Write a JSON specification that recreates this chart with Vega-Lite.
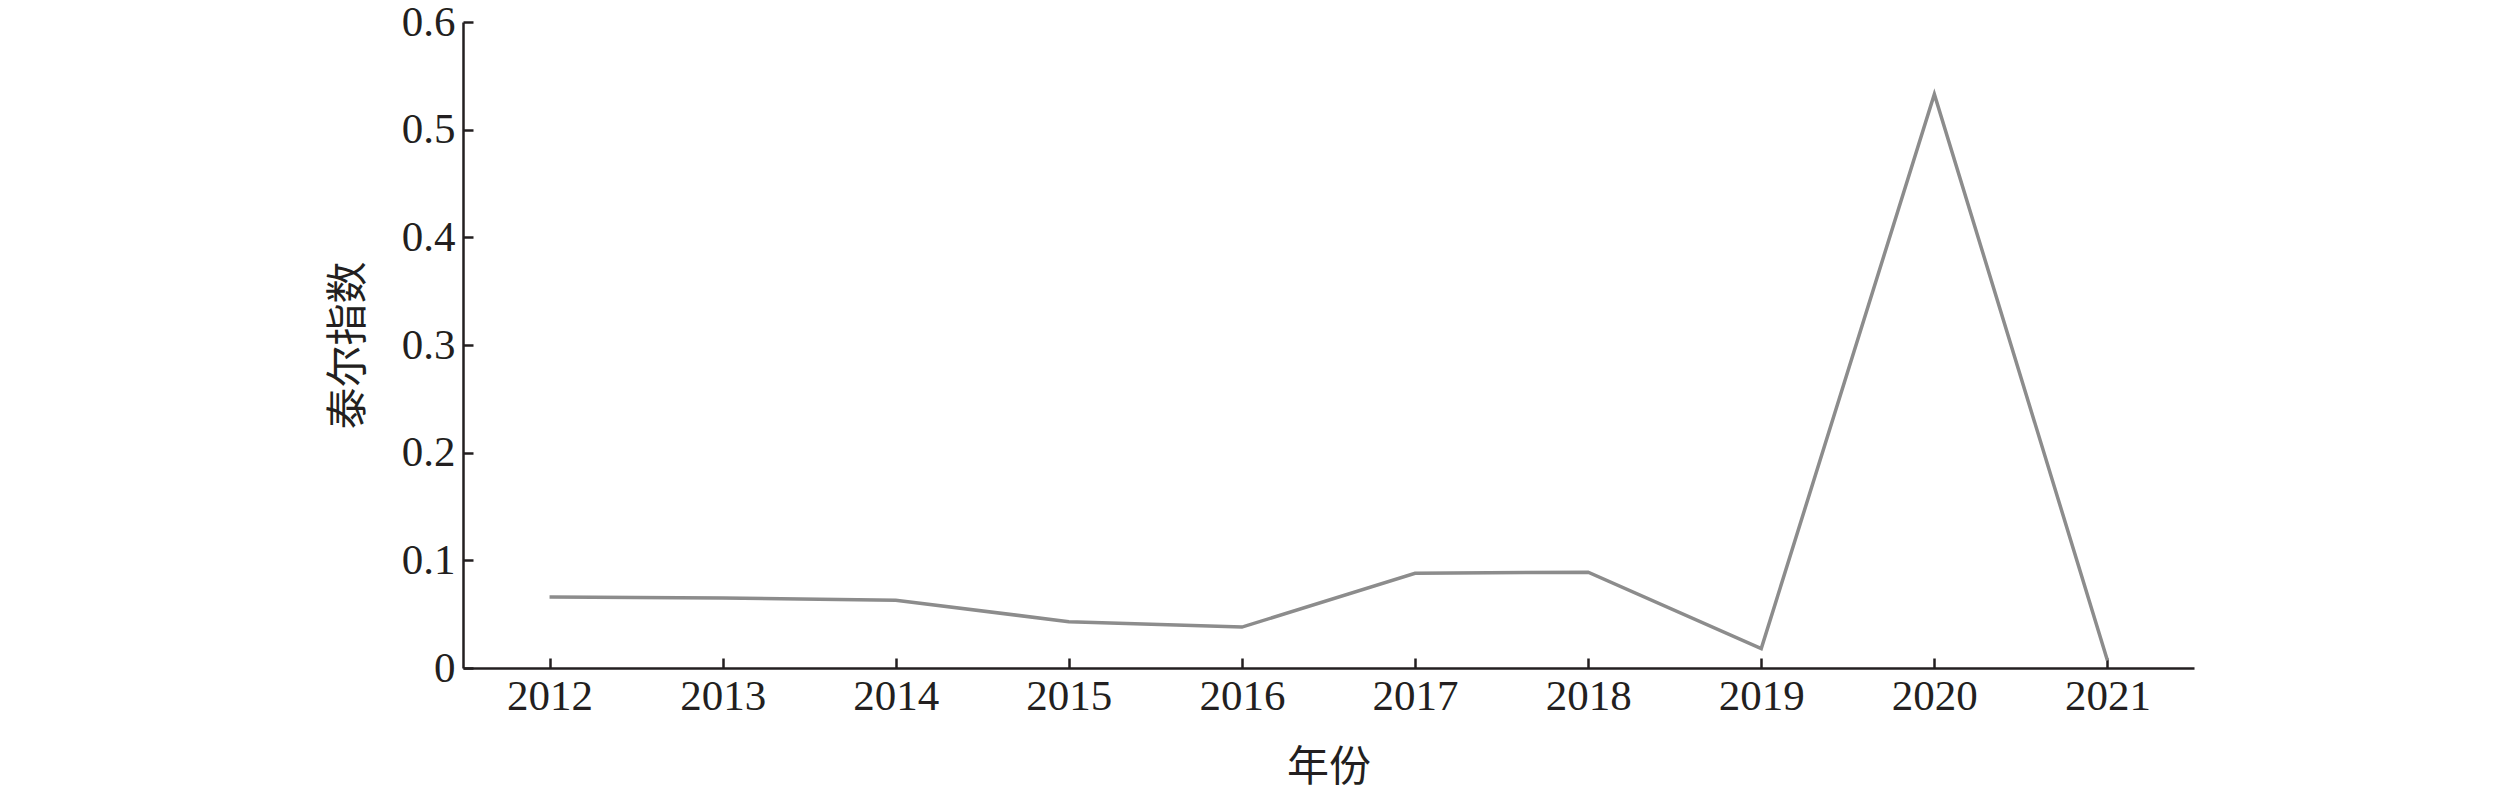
{
  "$schema": "https://vega.github.io/schema/vega-lite/v6.json",
  "autosize": {"type": "none"},
  "padding": {"left": 463, "top": 22, "right": 325, "bottom": 128},
  "width": 1731,
  "height": 646,
  "background": "white",
  "config": {"view": {"stroke": null}},
  "data": {"values": [
    {"year": "2012", "theil": 0.066},
    {"year": "2013", "theil": 0.065},
    {"year": "2014", "theil": 0.063},
    {"year": "2015", "theil": 0.043},
    {"year": "2016", "theil": 0.038},
    {"year": "2017", "theil": 0.088},
    {"year": "2018", "theil": 0.089},
    {"year": "2019", "theil": 0.018},
    {"year": "2020", "theil": 0.533},
    {"year": "2021", "theil": 0.007}
  ]},
  "mark": {"type": "line", "color": "#8c8c8c", "strokeWidth": 3.5},
  "encoding": {
    "x": {
      "field": "year", "type": "ordinal",
      "scale": {"type": "point", "padding": 0.5},
      "axis": {
        "title": "年份", "labelAngle": 0, "grid": false,
        "domainColor": "#231f20", "domainWidth": 2.5,
        "tickColor": "#231f20", "tickWidth": 2.5, "tickSize": -10,
        "labelFont": "Liberation Serif", "labelFontSize": 43, "labelColor": "#231f20",
        "labelPadding": 17,
        "titleFont": "Noto Sans CJK SC", "titleFontSize": 42, "titleFontWeight": "normal",
        "titleColor": "#231f20", "titleY": 99, "titleBaseline": "middle"
      }
    },
    "y": {
      "field": "theil", "type": "quantitative",
      "scale": {"domain": [0, 0.6], "nice": false},
      "axis": {
        "title": "泰尔指数", "values": [0, 0.1, 0.2, 0.3, 0.4, 0.5, 0.6],
        "grid": false,
        "labelExpr": "datum.value == 0 ? '0' : format(datum.value, '.1f')",
        "domainColor": "#231f20", "domainWidth": 2.5,
        "tickColor": "#231f20", "tickWidth": 2.5, "tickSize": -10,
        "labelFont": "Liberation Serif", "labelFontSize": 43, "labelColor": "#231f20",
        "labelPadding": 18,
        "titleFont": "Noto Sans CJK SC", "titleFontSize": 42, "titleFontWeight": "normal",
        "titleColor": "#231f20", "titleX": -115, "titleY": 323, "titleAngle": -90,
        "titleAlign": "center", "titleBaseline": "middle"
      }
    }
  }
}
